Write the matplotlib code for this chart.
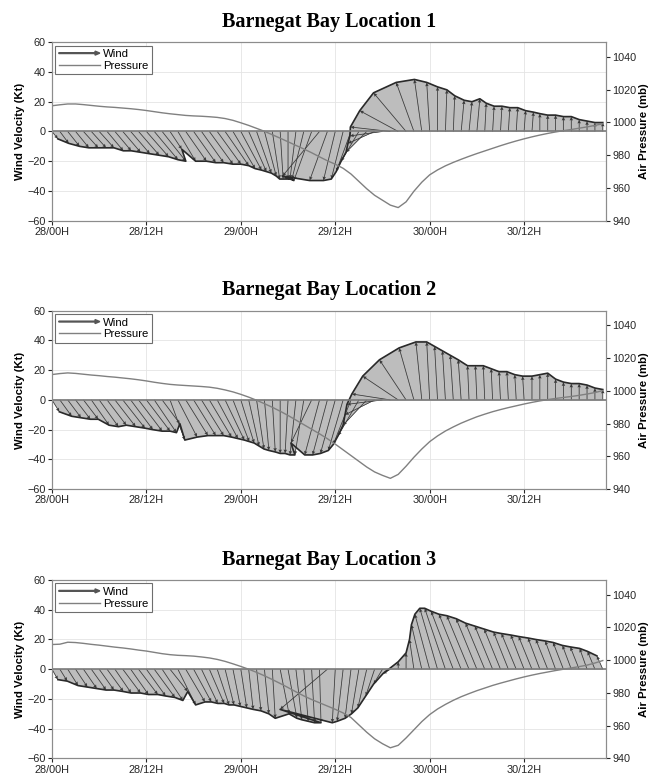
import numpy as np
import matplotlib
matplotlib.use('Agg')
import matplotlib.pyplot as plt
import matplotlib.patches as mpatches
from matplotlib.collections import PolyCollection
from matplotlib.legend_handler import HandlerPatch

matplotlib.rcParams.update({'font.size': 7, 'font.family': 'Liberation Sans'})

# hourly samples from 28/00H
hours = np.arange(0, 71)

xtick_hours = [0, 12, 24, 36, 48, 60]
xtick_labels = ['28/00H', '28/12H', '29/00H', '29/12H', '30/00H', '30/12H']
titles = ['Barnegat Bay Location 1', 'Barnegat Bay Location 2', 'Barnegat Bay Location 3']

# wind components (kt), u east / v north
u_loc1 = [4, 6, 8, 9, 10, 10, 10, 11, 11, 12, 13, 14, 15, 16, 16, 8, 12, 14, 15, 15,
          16, 16, 16, 15, 14, 12, 10, 8, 5, 2, 0, -4, -8, -12, -25, -12, -8, -8, -10, -12,
          -14, -18, -22, -27, -26, -22, -12, -5, -2, 0, 1, 1, 2, 2, 2, 1, 1, 1, 1, 1,
          1, 1, 0, 0, 0, 0, 0, 0, 0, 0, 0]
v_loc1 = [-5, -8, -10, -11, -11, -11, -11, -13, -13, -14, -15, -16, -17, -19, -20, -12, -20, -20, -21, -21,
          -22, -22, -23, -25, -26, -27, -28, -30, -32, -32, -32, -32, -32, -33, -30, -33, -33, -32, -27, -20,
          -14, -8, -3, 3, 14, 26, 33, 35, 33, 30, 28, 24, 21, 20, 22, 19, 17, 17, 16, 16,
          14, 13, 12, 11, 11, 10, 10, 8, 7, 6, 6]
p_loc1 = [1010.2, 1010.8, 1011.3, 1011.3, 1010.9, 1010.4, 1009.9, 1009.5, 1009.2, 1008.8,
          1008.4, 1007.9, 1007.3, 1006.6, 1005.9, 1005.3, 1004.8, 1004.3, 1004.0, 1003.8,
          1003.5, 1003.1, 1002.4, 1001.3, 999.8, 998.2, 996.4, 994.6, 992.5, 990.4,
          988.2, 986.0, 983.8, 981.5, 979.0, 976.6, 974.5, 972.0, 968.5, 964.0,
          959.5, 955.5, 952.5, 949.5, 948.0, 951.5, 958.0, 963.5, 968.0, 971.0,
          973.5, 975.6, 977.5, 979.3, 981.0, 982.6, 984.2, 985.8, 987.3, 988.7,
          990.0, 991.2, 992.3, 993.3, 994.2, 995.0, 995.7, 996.5, 997.3, 998.2, 999.2]

u_loc2 = [5, 8, 9, 10, 10, 12, 13, 13, 14, 15, 15, 16, 16, 15, 12, 10, 13, 15, 15, 15,
          15, 14, 13, 11, 9, 7, 5, 3, 2, 0, -2, -4, -6, -14, -10, -10, -10, -10, -12, -14,
          -16, -20, -24, -26, -24, -18, -10, -4, -2, -2, -2, -2, -2, -1, -1, -1, -1, -1, -1, -1,
          -1, 0, 0, 0, 0, 0, 0, 0, 0, 0, 0]
v_loc2 = [-8, -11, -12, -13, -13, -17, -18, -17, -18, -19, -20, -21, -21, -22, -16, -27, -25, -24, -24, -24,
          -25, -26, -27, -28, -29, -31, -33, -34, -35, -36, -36, -37, -37, -29, -37, -37, -36, -34, -30, -24,
          -17, -10, -3, 4, 16, 27, 35, 39, 39, 36, 33, 30, 27, 23, 23, 23, 21, 19, 19, 17,
          16, 16, 17, 18, 14, 12, 11, 11, 10, 8, 7]
p_loc2 = [1010.0, 1010.6, 1011.0, 1010.7, 1010.2, 1009.7, 1009.3, 1008.8, 1008.4, 1007.9,
          1007.4, 1006.8, 1006.1, 1005.3, 1004.6, 1004.0, 1003.6, 1003.3, 1003.0, 1002.7,
          1002.3, 1001.6, 1000.6, 999.4, 997.9, 996.2, 994.3, 992.2, 990.0, 987.6,
          985.0, 982.2, 979.4, 976.6, 973.8, 970.8, 967.5, 964.0, 960.5, 957.0,
          953.5, 950.5, 948.4, 946.6, 949.0, 954.0, 959.5, 964.5, 969.0, 972.5,
          975.5, 978.0, 980.3, 982.3, 984.2, 985.8, 987.3, 988.6, 989.8, 990.9,
          992.0, 993.0, 993.9, 994.7, 995.4, 996.0, 996.6, 997.3, 998.1, 999.0, 1000.2]

u_loc3 = [4, 5, 7, 8, 9, 10, 10, 11, 11, 12, 12, 13, 13, 14, 14, 12, 12, 13, 12, 11,
          10, 8, 6, 5, 4, 3, 3, 3, 2, 6, 6, 4, 3, 2, 1, -32, -2, -4, -4, -5,
          -6, -6, -6, -5, 0, 0, -3, -7, -10, -12, -14, -15, -15, -15, -14, -13, -12, -11, -10, -10,
          -9, -9, -8, -8, -7, -7, -6, -6, -5, -5, -4]
v_loc3 = [-7, -8, -11, -12, -13, -14, -14, -15, -16, -16, -17, -17, -18, -19, -21, -15, -24, -22, -22, -23,
          -23, -24, -24, -25, -26, -27, -28, -30, -33, -30, -33, -34, -35, -36, -36, -27, -36, -35, -33, -30,
          -26, -18, -10, -3, 5, 11, 20, 30, 37, 41, 41, 39, 37, 36, 34, 31, 29, 27, 25, 24,
          23, 22, 21, 20, 19, 18, 16, 15, 14, 12, 9]
p_loc3 = [1009.6, 1009.8, 1011.0, 1010.8, 1010.3, 1009.7, 1009.2, 1008.6, 1008.0, 1007.5,
          1006.9, 1006.2, 1005.6, 1004.8, 1004.0, 1003.4, 1003.0, 1002.8, 1002.5, 1002.0,
          1001.4, 1000.5, 999.3, 997.8, 996.2, 994.5, 992.6, 990.5, 988.2, 985.8,
          983.3, 980.7, 978.2, 976.0, 974.0, 972.0, 970.0, 967.8, 965.0, 960.5,
          956.0, 952.0, 949.0, 946.5, 948.0, 952.5, 957.5, 962.5, 966.8, 970.2,
          973.0, 975.5, 977.7, 979.6, 981.4, 983.0, 984.6, 986.0, 987.3, 988.6,
          989.8, 990.9, 991.9, 992.8, 993.7, 994.5, 995.3, 996.1, 997.0, 998.3, 999.8]

winds_u = [u_loc1, u_loc2, u_loc3]
winds_v = [v_loc1, v_loc2, v_loc3]
pressures = [p_loc1, p_loc2, p_loc3]

K = 0.188  # hours of x-axis per knot, so arrows keep their direction on screen
gcol = '#8c8c8c'


def make_arrow(legend, orig_handle, xdescent, ydescent, width, height, fontsize):
    return mpatches.FancyArrow(0, height / 2, width, 0, length_includes_head=True,
                               width=0.6, head_width=height * 0.5, head_length=height * 0.6)


fig = plt.figure(figsize=(6.54, 7.77), dpi=100)
bottoms = [0.7160, 0.3705, 0.0239]

for i in range(3):
    ax = fig.add_axes([0.0795, bottoms[i], 0.847, 0.2296])
    u = np.array(winds_u[i]) * K
    v = np.array(winds_v[i], dtype=float)
    tipx = hours + u

    # area swept by the arrows
    quads = []
    for j in range(len(hours) - 1):
        quads.append([(hours[j], 0), (tipx[j], v[j]), (tipx[j + 1], v[j + 1]), (hours[j + 1], 0)])
    ax.add_collection(PolyCollection(quads, facecolor='#bdbdbd', edgecolor='#a8a8a8',
                                     linewidth=0.3, zorder=2))
    ax.quiver(hours, np.zeros(len(hours)), u, v, angles='xy', scale_units='xy', scale=1,
              color='#3a3a3a', width=0.0014, headwidth=4.5, headlength=5, headaxislength=4.5,
              zorder=3)
    ax.plot(tipx, v, color='#2a2a2a', lw=1.2, zorder=3)
    ax.axhline(0, color='#7a7a7a', lw=1.2, zorder=4)

    ax.set_xlim(0, 70.4)
    ax.set_ylim(-60, 60)
    ax.set_yticks([-60, -40, -20, 0, 20, 40, 60])
    ax.set_xticks(xtick_hours)
    ax.set_xticklabels(xtick_labels)
    ax.grid(True, color='#e4e4e4', lw=0.6)
    ax.set_axisbelow(True)
    ax.set_ylabel('Wind Velocity (Kt)', fontweight='bold', fontsize=8.2, labelpad=2)
    ax.set_title(titles[i], fontfamily='Liberation Serif', fontweight='bold', fontsize=14.5, pad=11)
    ax.tick_params(direction='out', length=3, colors='#262626', labelsize=7.8, pad=1.5)

    axr = ax.twinx()
    axr.plot(hours, pressures[i], color='#808080', lw=1.0)
    axr.set_ylim(940, 1049)
    axr.set_yticks([940, 960, 980, 1000, 1020, 1040])
    axr.set_ylabel('Air Pressure (mb)', fontweight='bold', fontsize=8.2, labelpad=2)
    axr.tick_params(direction='out', length=3, colors='#262626', labelsize=7.8, pad=1.5)
    for a in (ax, axr):
        for s in a.spines.values():
            s.set_color(gcol)

    h_wind = mpatches.FancyArrow(0, 0, 1, 0, color='#555555')
    h_pres = plt.Line2D([], [], color='#808080', lw=1.0)
    leg = axr.legend([h_wind, h_pres], ['Wind', 'Pressure'], loc='upper left',
                     handler_map={mpatches.FancyArrow: HandlerPatch(patch_func=make_arrow)},
                     fontsize=8.2, handlelength=3.6, borderpad=0.3, labelspacing=0.15,
                     handletextpad=0.3, fancybox=False, framealpha=1,
                     borderaxespad=0.3)
    leg.get_frame().set_edgecolor('#6e6e6e')
    leg.get_frame().set_linewidth(0.8)

plt.savefig('out.png', dpi=100)
